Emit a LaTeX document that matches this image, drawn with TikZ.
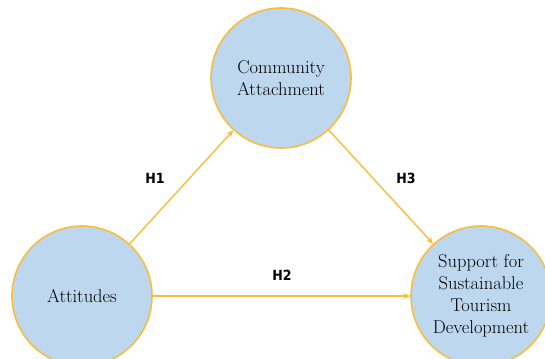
\documentclass[tikz,border=0pt]{standalone}
\usepackage{fontspec}
\newfontfamily\hfont{DejaVu Sans Condensed}
\usetikzlibrary{arrows.meta}
\definecolor{circfill}{HTML}{BDD7EE}
\definecolor{gold}{HTML}{F7BE3C}
\begin{document}
\begin{tikzpicture}[x=1pt,y=-1pt,
  circ/.style={circle,draw=gold,line width=1.6pt,fill=circfill,minimum size=140pt,inner sep=0pt,align=center,text=black,font=\fontsize{18.5}{21.8}\selectfont},
  link/.style={draw=gold,line width=1.4pt,-{Stealth[length=7pt,width=6pt]}},
  hlab/.style={font=\hfont\bfseries\fontsize{14}{16}\selectfont}]
\useasboundingbox (0,0) rectangle (545,358);
\node[circ] (C) at (281,78) {Community\\Attachment};
\node[circ] (A) at (82,296) {Attitudes};
\node[circ] (S) at (481,296) {Support for\\Sustainable\\Tourism\\Development};
\draw[link] (A) -- (C);
\draw[link] (C) -- (S);
\draw[link] (A) -- (S);
\node[hlab] (h1) at (155,178) {H1};
\node[hlab] (h3) at (406,178) {H3};
\node[hlab] (h2) at (282,275) {H2};
\end{tikzpicture}
\end{document}
